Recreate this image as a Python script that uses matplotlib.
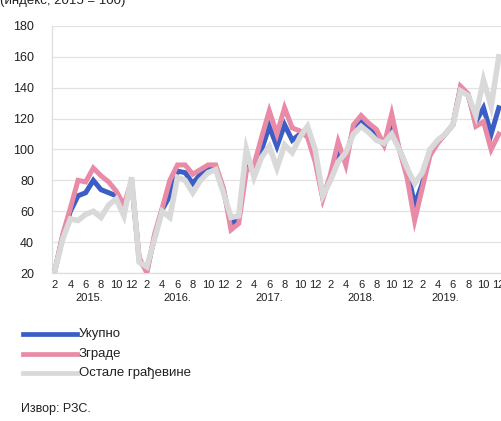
import matplotlib
matplotlib.use("Agg")
import matplotlib.pyplot as plt
import matplotlib.transforms as mtransforms

plt.rcParams['font.family'] = ['Liberation Sans', 'DejaVu Sans']

# Monthly data, Feb 2015 .. Dec 2019
start_year = 2015
start_month = 2
ukupno = [22, 44, 60, 70, 72, 80, 74, 72, 70, 60, 80, 28,
          22, 43, 61, 70, 86, 85, 78, 84, 88, 88, 74, 52,
          55, 90, 86, 100, 115, 102, 116, 106, 110, 110, 96, 69,
          82, 98, 95, 113, 119, 114, 108, 103, 115, 100, 88, 64,
          78, 98, 105, 110, 116, 140, 135, 118, 127, 110, 127]
zgrade = [22, 45, 62, 80, 79, 88, 83, 79, 73, 64, 80, 30,
          20, 45, 62, 80, 90, 90, 84, 87, 90, 90, 75, 48,
          52, 86, 90, 108, 125, 110, 127, 114, 112, 108, 92, 68,
          84, 105, 90, 116, 122, 117, 113, 103, 123, 100, 82, 54,
          75, 96, 104, 110, 116, 141, 136, 115, 118, 100, 110]
ostale = [22, 42, 55, 54, 58, 60, 56, 64, 68, 57, 82, 27,
          24, 42, 60, 56, 82, 80, 72, 80, 85, 87, 72, 56,
          57, 100, 82, 95, 102, 88, 103, 98, 108, 115, 100, 70,
          80, 92, 98, 110, 115, 111, 106, 104, 110, 100, 88, 78,
          85, 100, 106, 110, 116, 138, 135, 122, 145, 128, 160]
series_names = ['Укупно', 'Зграде', 'Остале грађевине']
colors = ['#3b5ec6', '#e98aa6', '#d9d9d9']
yticks = [20, 40, 60, 80, 100, 120, 140, 160, 180]
years = ['2015.', '2016.', '2017.', '2018.', '2019.']

W, H = 502, 421
fig = plt.figure(figsize=(W / 100, H / 100), dpi=100)
ax = fig.add_axes([52 / W, (H - 273) / H, 451.4 / W, 247 / H])

n = len(ukupno)
x = list(range(n))
ax.plot(x, ukupno, color=colors[0], lw=3.6, solid_joinstyle='miter', zorder=3)
ax.plot(x, zgrade, color=colors[1], lw=3.6, solid_joinstyle='miter', zorder=4)
ax.plot(x, ostale, color=colors[2], lw=4.0, solid_joinstyle='miter', zorder=5)

ax.set_xlim(-0.4, n - 0.4)
ax.set_ylim(20, 180)
ax.set_yticks(yticks)
ax.set_yticklabels([str(v) for v in yticks], fontsize=9, color='#222222')
ax.tick_params(axis='y', length=0, pad=13)
ax.grid(axis='y', color='#e2e2e2', lw=0.9)
ax.set_axisbelow(True)

months = [((start_month - 1 + i) % 12) + 1 for i in range(n)]
xt = [i for i in range(n) if months[i] % 2 == 0]
ax.set_xticks(xt)
ax.set_xticklabels([str(months[i]) for i in xt], fontsize=8, color='#222222')
ax.tick_params(axis='x', length=0, pad=5)

for s in ['top', 'right']:
    ax.spines[s].set_visible(False)
for s in ['left', 'bottom']:
    ax.spines[s].set_color('#dddddd')
    ax.spines[s].set_linewidth(0.9)

# year labels centred under each year's months
trans = mtransforms.blended_transform_factory(ax.transData, fig.transFigure)
yr_idx = [start_year + (start_month - 1 + i) // 12 for i in range(n)]
for k, lab in enumerate(years):
    idx = [i for i in range(n) if yr_idx[i] == start_year + k]
    c = (idx[0] + idx[-1]) / 2 - 0.5
    if k == len(years) - 1:
        c = idx[0] + 4
    ax.text(c, (H - 298) / H, lab, transform=trans, ha='center', va='center',
            fontsize=8, color='#222222')

# partially visible subtitle at the very top
fig.text(0 / W, (H - 4) / H, '(индекс, 2015 = 100)', fontsize=9.5,
         ha='left', va='baseline', color='#222222')

# legend
for k, (name, col) in enumerate(zip(series_names, colors)):
    yy = (H - (334 + 19.5 * k)) / H
    fig.add_artist(plt.Line2D([23 / W, 77 / W], [yy, yy], color=col, lw=3.4,
                              transform=fig.transFigure))
    fig.text(79 / W, yy, name, fontsize=9.5, ha='left', va='center', color='#222222')

fig.text(21 / W, (H - 409) / H, 'Извор: РЗС.', fontsize=9, ha='left', va='center',
         color='#222222')

fig.savefig('out.png', dpi=100, facecolor='white')
